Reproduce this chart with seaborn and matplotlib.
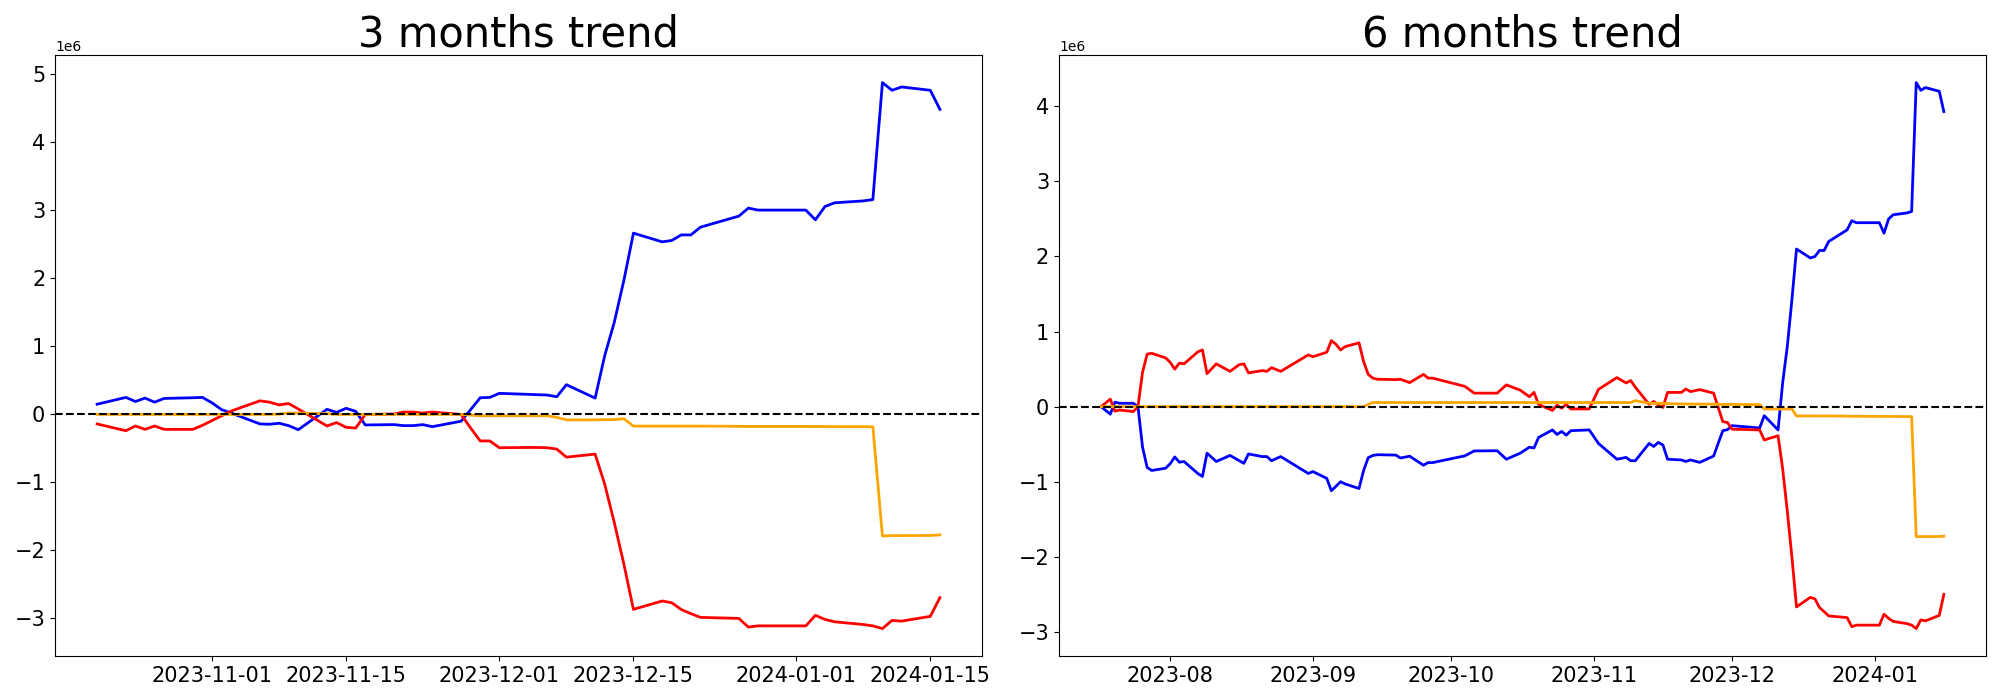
import matplotlib
matplotlib.use("Agg")
import matplotlib.pyplot as plt
import numpy as np
import pandas as pd
import seaborn as sns

# all values below are in millions

# ---- 3 months trend ----
dates_3m = [
    "2023-10-20", "2023-10-23", "2023-10-24", "2023-10-25", "2023-10-26", "2023-10-27", "2023-10-30", "2023-10-31",
    "2023-11-01", "2023-11-02", "2023-11-03", "2023-11-06", "2023-11-07", "2023-11-08", "2023-11-09", "2023-11-10",
    "2023-11-13", "2023-11-14", "2023-11-15", "2023-11-16", "2023-11-17", "2023-11-20", "2023-11-21", "2023-11-22",
    "2023-11-23", "2023-11-24", "2023-11-27", "2023-11-28", "2023-11-29", "2023-11-30",
    "2023-12-01", "2023-12-04", "2023-12-05", "2023-12-06", "2023-12-07", "2023-12-08", "2023-12-11", "2023-12-12",
    "2023-12-13", "2023-12-14", "2023-12-15", "2023-12-18", "2023-12-19", "2023-12-20", "2023-12-21", "2023-12-22",
    "2023-12-26", "2023-12-27", "2023-12-28", "2023-12-29",
    "2024-01-02", "2024-01-03", "2024-01-04", "2024-01-05", "2024-01-08", "2024-01-09", "2024-01-10", "2024-01-11",
    "2024-01-12", "2024-01-15", "2024-01-16",
]
blue_3m = [
    0.15, 0.25, 0.19, 0.24, 0.18, 0.235, 0.245, 0.25,
    0.17, 0.07, 0.02, -0.14, -0.145, -0.13, -0.165, -0.225, 0.075, 0.03, 0.09, 0.045, -0.155, -0.15, -0.165,
    -0.165, -0.15, -0.18, -0.10, 0.07, 0.245, 0.25,
    0.31, 0.295, 0.29, 0.285, 0.26, 0.437, 0.24, 0.864, 1.355, 1.97, 2.666, 2.538, 2.558, 2.64, 2.64, 2.754,
    2.916, 3.034, 3.005, 3.005,
    3.005, 2.862, 3.058, 3.112, 3.14, 3.16, 4.88, 4.767, 4.816, 4.767, 4.487,
]
red_3m = [
    -0.14, -0.24, -0.17, -0.22, -0.17, -0.22, -0.22, -0.16,
    -0.09, -0.02, 0.05, 0.20, 0.18, 0.14, 0.16, 0.08, -0.17, -0.12, -0.19, -0.20, 0.0, 0.005, 0.035,
    0.035, 0.02, 0.035, 0.0, -0.20, -0.39, -0.39,
    -0.49, -0.486, -0.486, -0.49, -0.51, -0.628, -0.584, -1.026, -1.59, -2.2, -2.867, -2.744, -2.77, -2.87,
    -2.93, -2.985, -3.0, -3.127, -3.11, -3.11,
    -3.11, -2.955, -3.015, -3.05, -3.09, -3.11, -3.15, -3.03, -3.04, -2.97, -2.695,
]
orange_3m = [
    0, 0, 0, 0, 0, 0, 0, 0,
    0, 0, 0, 0, 0, 0.005, 0.02, 0.02, 0.01, 0, 0, 0, 0, 0, 0,
    0, 0, 0, 0, -0.01, -0.02, -0.02,
    -0.02, -0.02, -0.02, -0.02, -0.044, -0.08, -0.08, -0.078, -0.075, -0.064, -0.172, -0.172, -0.172, -0.172,
    -0.172, -0.172, -0.175, -0.177, -0.177, -0.177,
    -0.177, -0.178, -0.178, -0.18, -0.18, -0.182, -1.787, -1.782, -1.782, -1.78, -1.772,
]

# ---- 6 months trend ----
dates_6m = [
    "2023-07-17", "2023-07-19", "2023-07-20", "2023-07-21", "2023-07-24", "2023-07-25", "2023-07-26", "2023-07-27",
    "2023-07-28", "2023-07-31",
    "2023-08-01", "2023-08-02", "2023-08-03", "2023-08-04", "2023-08-07", "2023-08-08", "2023-08-09", "2023-08-11",
    "2023-08-14", "2023-08-16", "2023-08-17", "2023-08-18", "2023-08-21", "2023-08-22", "2023-08-23", "2023-08-25",
    "2023-08-31",
    "2023-09-01", "2023-09-04", "2023-09-05", "2023-09-06", "2023-09-07", "2023-09-08", "2023-09-11", "2023-09-12",
    "2023-09-13", "2023-09-14", "2023-09-15", "2023-09-19", "2023-09-20", "2023-09-22", "2023-09-25", "2023-09-26",
    "2023-09-27",
    "2023-10-04", "2023-10-06", "2023-10-11", "2023-10-13", "2023-10-16", "2023-10-18", "2023-10-19", "2023-10-20",
    "2023-10-23", "2023-10-24", "2023-10-25", "2023-10-26", "2023-10-27", "2023-10-31",
    "2023-11-02", "2023-11-06", "2023-11-08", "2023-11-09", "2023-11-10", "2023-11-13", "2023-11-14", "2023-11-15",
    "2023-11-16", "2023-11-17", "2023-11-20", "2023-11-21", "2023-11-22", "2023-11-24", "2023-11-27", "2023-11-29",
    "2023-11-30",
    "2023-12-01", "2023-12-07", "2023-12-08", "2023-12-11", "2023-12-12", "2023-12-13", "2023-12-14", "2023-12-15",
    "2023-12-18", "2023-12-19", "2023-12-20", "2023-12-21", "2023-12-22", "2023-12-26", "2023-12-27", "2023-12-28",
    "2023-12-29",
    "2024-01-02", "2024-01-03", "2024-01-04", "2024-01-05", "2024-01-08", "2024-01-09", "2024-01-10", "2024-01-11",
    "2024-01-12", "2024-01-15", "2024-01-16",
]
blue_6m = [
    0.0, -0.10, 0.06, 0.045, 0.045, 0.0, -0.54, -0.81, -0.85, -0.82,
    -0.76, -0.67, -0.74, -0.73, -0.89, -0.93, -0.62, -0.73, -0.65, -0.72, -0.755, -0.63, -0.665, -0.665, -0.72,
    -0.665, -0.89,
    -0.865, -0.955, -1.12, -1.06, -1.00, -1.03, -1.09, -0.85, -0.68, -0.65, -0.64, -0.645, -0.684, -0.66, -0.78,
    -0.745, -0.745,
    -0.655, -0.59, -0.587, -0.70, -0.62, -0.54, -0.55, -0.41, -0.31, -0.37, -0.33, -0.38, -0.32, -0.31,
    -0.49, -0.70, -0.676, -0.72, -0.72, -0.49, -0.53, -0.476, -0.511, -0.70, -0.71, -0.73, -0.71, -0.742, -0.658,
    -0.32, -0.307,
    -0.253, -0.284, -0.12, -0.31, 0.32, 0.80, 1.42, 2.10, 1.98, 2.00, 2.08, 2.08, 2.20, 2.355, 2.476, 2.45, 2.45,
    2.45, 2.31, 2.50, 2.556, 2.58, 2.60, 4.316, 4.213, 4.25, 4.20, 3.93,
]
red_6m = [
    0.0, 0.10, -0.06, -0.045, -0.065, 0.0, 0.46, 0.70, 0.71, 0.65,
    0.59, 0.50, 0.58, 0.57, 0.73, 0.755, 0.44, 0.57, 0.47, 0.56, 0.57, 0.45, 0.48, 0.47, 0.52, 0.47, 0.69,
    0.665, 0.725, 0.88, 0.83, 0.755, 0.80, 0.85, 0.60, 0.43, 0.38, 0.365, 0.36, 0.365, 0.32, 0.43, 0.38, 0.38,
    0.27, 0.18, 0.18, 0.29, 0.22, 0.133, 0.19, 0.03, -0.05, 0.02, -0.02, 0.03, -0.03, -0.03,
    0.23, 0.387, 0.316, 0.347, 0.26, 0.03, 0.07, 0.02, -0.01, 0.19, 0.19, 0.235, 0.20, 0.227, 0.18, -0.20, -0.21,
    -0.30, -0.31, -0.444, -0.387, -0.83, -1.39, -2.00, -2.667, -2.54, -2.56, -2.676, -2.73, -2.787, -2.81, -2.93,
    -2.91, -2.91,
    -2.91, -2.764, -2.82, -2.86, -2.89, -2.91, -2.956, -2.84, -2.853, -2.78, -2.50,
]
orange_6m = [
    0, 0, 0, 0, 0, 0, 0, 0, 0, 0,
    0, 0, 0, 0, 0, 0, 0, 0, 0, 0, 0, 0, 0, 0, 0, 0, 0,
    0, 0, 0, 0, 0, 0, 0, 0, 0.03, 0.055, 0.055, 0.055, 0.055, 0.055, 0.055, 0.055, 0.055,
    0.055, 0.055, 0.055, 0.055, 0.055, 0.055, 0.055, 0.055, 0.055, 0.055, 0.055, 0.055, 0.055, 0.055,
    0.055, 0.055, 0.055, 0.055, 0.08, 0.044, 0.044, 0.044, 0.044, 0.04, 0.036, 0.036, 0.035, 0.034, 0.033,
    0.03, 0.03,
    0.03, 0.027, -0.031, -0.031, -0.031, -0.031, -0.031, -0.124, -0.124, -0.124, -0.124, -0.124, -0.124,
    -0.126, -0.128, -0.128, -0.128,
    -0.13, -0.13, -0.13, -0.131, -0.132, -0.133, -1.733, -1.73, -1.73, -1.73, -1.724,
]

SERIES = ["blue", "red", "orange"]
COLORS = {"blue": "blue", "red": "red", "orange": "orange"}


def make_frame(dates, blue, red, orange):
    n = len(dates)
    return pd.DataFrame({
        "date": pd.to_datetime(dates * 3),
        "value": np.concatenate([blue, red, orange]) * 1e6,
        "series": ["blue"] * n + ["red"] * n + ["orange"] * n,
    })


panels = [
    ("3 months trend", make_frame(dates_3m, blue_3m, red_3m, orange_3m)),
    ("6 months trend", make_frame(dates_6m, blue_6m, red_6m, orange_6m)),
]

fig, axes = plt.subplots(1, 2, figsize=(20, 7))
for ax, (title, df) in zip(axes, panels):
    sns.lineplot(
        data=df, x="date", y="value", hue="series", hue_order=SERIES,
        palette=COLORS, linewidth=2, legend=False, estimator=None, ax=ax,
    )
    ax.axhline(0, color="black", linestyle="--", linewidth=1.5)
    ax.set_title(title, fontsize=30)
    ax.set_xlabel("")
    ax.set_ylabel("")
    ax.tick_params(labelsize=15)

fig.subplots_adjust(left=0.0275, right=0.993, top=0.921, bottom=0.063, wspace=0.083)
fig.savefig("out.png", dpi=100)
